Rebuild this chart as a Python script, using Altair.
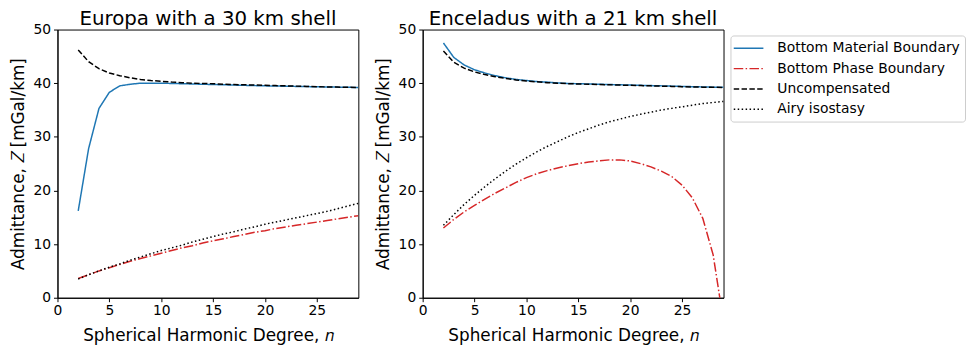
import altair as alt
import pandas as pd

n = list(range(2, 30))

series_names = ["Bottom Material Boundary", "Bottom Phase Boundary", "Uncompensated", "Airy isostasy"]

# Europa (30 km shell)
eu_material = [16.2, 27.8, 35.3, 38.3, 39.5, 39.8, 40.0, 40.0, 40.0, 39.95, 39.9, 39.85, 39.8, 39.75,
               39.7, 39.65, 39.6, 39.55, 39.5, 39.47, 39.43, 39.4, 39.37, 39.33, 39.3, 39.26, 39.23, 39.19]
eu_phase = [3.6, 4.3, 5.0, 5.6, 6.2, 6.8, 7.3, 7.8, 8.3, 8.8, 9.3, 9.7, 10.2, 10.6,
            11.0, 11.4, 11.8, 12.2, 12.5, 12.9, 13.2, 13.5, 13.8, 14.1, 14.4, 14.7, 15.0, 15.3]
eu_uncomp = [46.2, 44.0, 42.7, 41.9, 41.4, 41.0, 40.7, 40.5, 40.35, 40.2, 40.1, 40.0, 39.95, 39.9,
             39.8, 39.75, 39.7, 39.65, 39.6, 39.55, 39.5, 39.45, 39.4, 39.35, 39.3, 39.27, 39.23, 39.2]
eu_airy = [3.5, 4.3, 5.0, 5.7, 6.3, 7.0, 7.6, 8.2, 8.8, 9.3, 9.8, 10.4, 10.9, 11.4,
           11.9, 12.3, 12.8, 13.2, 13.7, 14.1, 14.5, 14.9, 15.3, 15.7, 16.1, 16.6, 17.1, 17.6]

# Enceladus (21 km shell)
en_material = [47.5, 44.8, 43.4, 42.5, 41.9, 41.4, 41.0, 40.7, 40.5, 40.3, 40.2, 40.05, 39.95, 39.9,
               39.85, 39.8, 39.75, 39.7, 39.65, 39.6, 39.55, 39.5, 39.45, 39.4, 39.35, 39.3, 39.26, 39.22]
en_phase = [13.0, 14.6, 16.0, 17.2, 18.4, 19.5, 20.5, 21.5, 22.4, 23.1, 23.7, 24.2, 24.6, 25.0,
            25.3, 25.5, 25.7, 25.7, 25.5, 25.0, 24.4, 23.6, 22.6, 21.0, 18.6, 14.8, 8.0, -4.5]
en_uncomp = [46.0, 43.9, 42.8, 42.1, 41.6, 41.2, 40.9, 40.6, 40.4, 40.25, 40.1, 40.0, 39.9, 39.85,
             39.8, 39.75, 39.7, 39.65, 39.6, 39.55, 39.5, 39.45, 39.4, 39.35, 39.3, 39.26, 39.23, 39.2]
en_airy = [13.5, 15.5, 17.4, 19.1, 20.7, 22.2, 23.6, 24.9, 26.1, 27.2, 28.2, 29.1, 30.0, 30.8,
           31.5, 32.2, 32.8, 33.3, 33.8, 34.2, 34.6, 35.0, 35.3, 35.6, 35.9, 36.2, 36.4, 36.6]

x_ticks = [0, 5, 10, 15, 20, 25]
y_ticks = [0, 10, 20, 30, 40, 50]

x_title = "Spherical Harmonic Degree, \U0001D45B"
y_title = "Admittance, \U0001D44D [mGal/km]"


def build(vals):
    rows = []
    for name, arr in zip(series_names, vals):
        for k, v in zip(n, arr):
            rows.append({"n": k, "Z": v, "series": name})
    return pd.DataFrame(rows)


df_eu = build([eu_material, eu_phase, eu_uncomp, eu_airy])
df_en = build([en_material, en_phase, en_uncomp, en_airy])

color_scale = alt.Scale(domain=series_names, range=["#1f77b4", "#d62728", "#000000", "#000000"])
dash_scale = alt.Scale(domain=series_names,
                       range=[[1, 0], [9.6, 2.4, 1.5, 2.4], [5.5, 2.4], [1.5, 2.5]])


def panel(df, title, show_legend):
    legend = alt.Legend(
        title=None, orient="none", legendX=680, legendY=6,
        symbolType="M-2.14,0H2.14", symbolSize=196, symbolStrokeWidth=1.5,
        symbolFillColor="transparent", symbolOffset=5.3,
        labelFontSize=14, labelFont="DejaVu Sans", labelColor="black", labelLimit=0,
        rowPadding=5.5, columnPadding=0, padding=5, labelOffset=21,
        strokeColor="#cccccc", fillColor="white", cornerRadius=3,
    ) if show_legend else None
    return alt.Chart(df).mark_line(strokeWidth=1.5, clip=True).encode(
        x=alt.X("n:Q", scale=alt.Scale(domain=[0, 29], nice=False, zero=False),
                axis=alt.Axis(values=x_ticks, title=x_title)),
        y=alt.Y("Z:Q", scale=alt.Scale(domain=[0, 50], nice=False),
                axis=alt.Axis(values=y_ticks, title=y_title)),
        color=alt.Color("series:N", scale=color_scale, sort=series_names,
                        legend=legend),
        strokeDash=alt.StrokeDash("series:N", scale=dash_scale, sort=series_names,
                                  legend=legend),
        detail="series:N",
    ).properties(width=304, height=271,
                 title=alt.TitleParams(title, fontSize=20, font="DejaVu Sans",
                                       fontWeight="normal", color="black", offset=-6))


left = panel(df_eu, "Europa with a 30 km shell", True)
right = panel(df_en, "Enceladus with a 21 km shell", False)

chart = alt.hconcat(left, right, spacing=14).resolve_scale(
    color="shared", strokeDash="shared"
).properties(
    padding={"left": 0, "top": -2, "right": 0, "bottom": 0}
).configure_view(
    stroke="black", strokeWidth=1
).configure_axis(
    grid=False, domainColor="black", tickColor="black", tickSize=4,
    labelFontSize=14, labelFont="DejaVu Sans", labelColor="black", labelPadding=3,
    titleFontSize=17, titleFont="DejaVu Sans", titleFontWeight="normal", titleColor="black",
    labelFlush=False,
).configure_axisY(
    titlePadding=6
).configure_axisX(
    titlePadding=10, labelPadding=2
)

chart.save("out.html", embed_options={"renderer": "svg", "actions": False})
